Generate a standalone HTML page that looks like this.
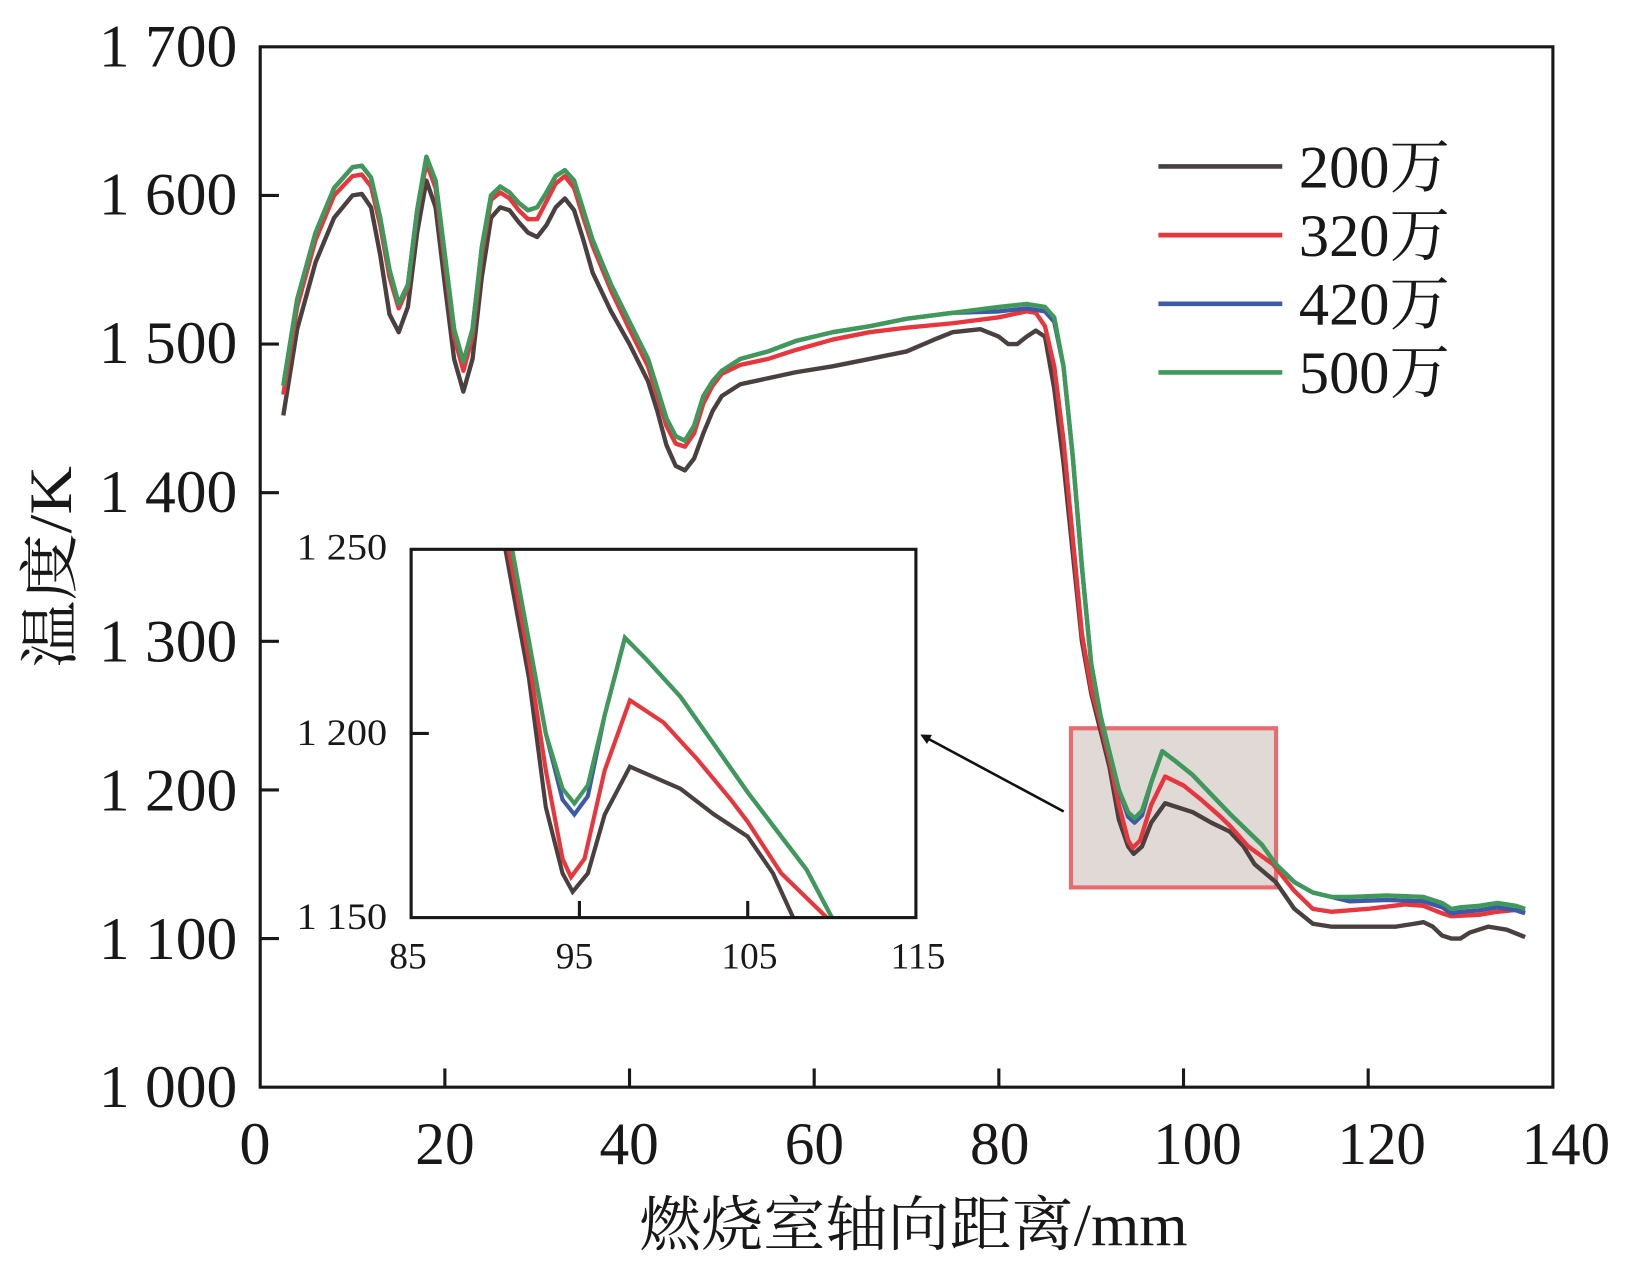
<!DOCTYPE html>
<html><head><meta charset="utf-8"><style>
html,body{margin:0;padding:0;background:#fff;}
svg{display:block;}
text{font-family:"Liberation Serif","Noto Serif CJK SC",serif;fill:#1a1718;}
</style></head><body>
<svg id="s" width="1632" height="1263" viewBox="0 0 1568 1214" preserveAspectRatio="none" xmlns="http://www.w3.org/2000/svg">
<defs><clipPath id="ic"><rect x="395" y="528" width="485" height="354"/></clipPath>
<marker id="ar" markerWidth="10" markerHeight="10" refX="8" refY="5" orient="auto" markerUnits="userSpaceOnUse"><path d="M0,0 L10,5 L0,10 z" fill="#111"/></marker></defs>
<rect x="1029" y="700" width="197" height="153" fill="#e0d9d6" stroke="#ea6b6e" stroke-width="4"/>
<g id="main" fill="none" stroke-width="4.2" stroke-linejoin="round"></g>
<g id="inset" fill="none" stroke-width="4" clip-path="url(#ic)"></g>
<rect x="250" y="45" width="1242" height="1000" fill="none" stroke="#1a1718" stroke-width="3"/>
<rect x="395" y="528" width="485" height="354" fill="none" stroke="#1a1718" stroke-width="3"/>
<line x1="1022" y1="780" x2="886" y2="707" stroke="#111" stroke-width="2.5" marker-end="url(#ar)"/>
<g id="ticks" stroke="#1a1718" stroke-width="3"></g>
<g font-size="58">
<text x="95" y="64" textLength="133" lengthAdjust="spacingAndGlyphs">1 700</text>
<text x="95" y="206" textLength="133" lengthAdjust="spacingAndGlyphs">1 600</text>
<text x="95" y="349" textLength="133" lengthAdjust="spacingAndGlyphs">1 500</text>
<text x="95" y="492" textLength="133" lengthAdjust="spacingAndGlyphs">1 400</text>
<text x="95" y="636" textLength="133" lengthAdjust="spacingAndGlyphs">1 300</text>
<text x="95" y="779" textLength="133" lengthAdjust="spacingAndGlyphs">1 200</text>
<text x="95" y="922" textLength="133" lengthAdjust="spacingAndGlyphs">1 100</text>
<text x="95" y="1064" textLength="133" lengthAdjust="spacingAndGlyphs">1 000</text>
<text x="230" y="1119" textLength="30" lengthAdjust="spacingAndGlyphs">0</text>
<text x="399" y="1119" textLength="57" lengthAdjust="spacingAndGlyphs">20</text>
<text x="576" y="1119" textLength="57" lengthAdjust="spacingAndGlyphs">40</text>
<text x="754" y="1119" textLength="57" lengthAdjust="spacingAndGlyphs">60</text>
<text x="932" y="1119" textLength="57" lengthAdjust="spacingAndGlyphs">80</text>
<text x="1108" y="1119" textLength="85" lengthAdjust="spacingAndGlyphs">100</text>
<text x="1285" y="1119" textLength="85" lengthAdjust="spacingAndGlyphs">120</text>
<text x="1462" y="1119" textLength="85" lengthAdjust="spacingAndGlyphs">140</text>
<text x="614" y="1197" textLength="527" lengthAdjust="spacingAndGlyphs">燃烧室轴向距离/mm</text>
<text transform="translate(68,545) rotate(-90)" x="-97" textLength="194" lengthAdjust="spacingAndGlyphs">温度/K</text>
<text x="1248" y="180" textLength="145" lengthAdjust="spacingAndGlyphs">200万</text>
<text x="1248" y="246" textLength="145" lengthAdjust="spacingAndGlyphs">320万</text>
<text x="1248" y="312" textLength="145" lengthAdjust="spacingAndGlyphs">420万</text>
<text x="1248" y="378" textLength="145" lengthAdjust="spacingAndGlyphs">500万</text>
</g>
<g font-size="36">
<text x="285" y="538" textLength="87" lengthAdjust="spacingAndGlyphs">1 250</text>
<text x="285" y="716" textLength="87" lengthAdjust="spacingAndGlyphs">1 200</text>
<text x="285" y="893" textLength="87" lengthAdjust="spacingAndGlyphs">1 150</text>
<text x="392" y="931" text-anchor="middle">85</text>
<text x="552" y="931" text-anchor="middle">95</text>
<text x="720" y="931" text-anchor="middle">105</text>
<text x="882" y="931" text-anchor="middle">115</text>
</g>
<g stroke-width="4.5">
<line x1="1113" y1="160" x2="1232" y2="160" stroke="#4a4040"/>
<line x1="1113" y1="226" x2="1232" y2="226" stroke="#e8363c"/>
<line x1="1113" y1="292" x2="1232" y2="292" stroke="#3c5aa8"/>
<line x1="1113" y1="358" x2="1232" y2="358" stroke="#3f9a5a"/>
</g>
</svg>
<script>
var B=[2.5,1452,4,1510,6,1555,8,1585,10,1600,11,1601,12,1592,13,1560,14,1520,15,1508,16,1525,17,1575,18,1610,19,1592,20,1540,21,1490,22,1468,23,1490,24,1545,25,1585,26,1592,27,1590,28,1582,29,1575,30,1572,31,1580,32,1592,33,1598,34,1590,35,1570,36,1548,38,1522,40,1500,42,1475,43,1455,44,1432,45,1418,46,1415,47,1423,48,1440,49,1455,50,1465,52,1473,55,1477,58,1481,62,1485,66,1490,70,1495,73,1503,75,1508,78,1510,80,1505,81,1500,82,1500,83,1505,84,1509,85,1505,86,1470,87,1420,88,1360,89,1300,90,1265,91,1240,92,1215,93,1180,94,1162,94.6,1157,95.5,1162,96.5,1178,98,1191,101,1185,103,1178,105,1172,106.5,1162,107.7,1150,110,1138,112,1120,114,1110,116,1108,120,1108,123,1108,125,1110,126,1111,127,1108,128,1102,129,1100,130,1100,131,1104,133,1108,135,1106,137,1101];
var R=[2.5,1466,4,1525,6,1570,8,1600,10,1613,11,1614,12,1606,13,1580,14,1545,15,1524,16,1538,17,1588,18,1622,19,1605,20,1555,21,1505,22,1482,23,1505,24,1560,25,1597,26,1602,27,1598,28,1590,29,1584,30,1584,31,1596,32,1608,33,1613,34,1605,35,1585,36,1566,38,1536,40,1510,42,1485,43,1465,44,1445,45,1433,46,1431,47,1440,48,1460,49,1472,50,1480,52,1486,55,1490,58,1496,62,1503,66,1508,70,1511,75,1514,80,1518,83,1522,84,1521,85,1512,86,1485,87,1435,88,1370,89,1305,90,1268,91,1245,92,1220,93,1190,94,1166,94.5,1161,95.3,1166,96.5,1190,98,1209,100,1203,102,1193,104,1182,105,1176,107,1162,109.7,1150,112,1132,114,1120,116,1118,120,1120,124,1123,126,1122,128,1117,129,1115,132,1116,134,1118,137,1120];
var G=[2.5,1472,4,1530,6,1575,8,1605,10,1619,11,1620,12,1612,13,1585,14,1550,15,1527,16,1540,17,1590,18,1626,19,1610,20,1560,21,1510,22,1488,23,1510,24,1565,25,1600,26,1606,27,1602,28,1595,29,1590,30,1592,31,1602,32,1613,33,1617,34,1610,35,1590,36,1570,37,1555,38,1540,40,1515,42,1490,43,1470,44,1450,45,1438,46,1435,47,1445,48,1465,49,1475,50,1482,52,1490,55,1495,58,1502,62,1508,66,1512,70,1517,75,1521,80,1525,83,1527,85,1525,86,1518,87,1485,88,1425,89,1350,90,1285,91,1250,92,1225,93,1200,94,1185,94.7,1181,95.5,1186,96.5,1205,97.7,1226,99,1220,101,1210,103,1197,105,1184,107,1172,108.5,1163,110,1150,112,1138,114,1131,116,1128,118,1128,122,1129,126,1128,128,1124,129,1120,130,1121,132,1122,134,1124,136,1122,137,1120];
var L=G.slice();
for(var i=0;i<L.length;i+=2){var x=L[i];if(x>=80&&x<=86)L[i+1]-=3;if(x>=94&&x<=95.5)L[i+1]-=3;if(x>=118)L[i+1]-=3;}
function path(a,fx,fy){var d="";for(var i=0;i<a.length;i+=2)d+=(i?"L":"M")+fx(a[i]).toFixed(1)+","+fy(a[i+1]).toFixed(1);return d;}
var mx=function(v){return 250+v*8.871},my=function(t){return 1045-(t-1000)*1.4286};
var ix=function(v){return 395+(v-85)*16.17},iy=function(t){return 528+(1250-t)*3.54};
var S=[[B,"#4a4040"],[R,"#e8363c"],[L,"#3c5aa8"],[G,"#3f9a5a"]];
var m=document.getElementById("main"),n=document.getElementById("inset"),ns="http://www.w3.org/2000/svg";
S.forEach(function(s){var p=document.createElementNS(ns,"path");p.setAttribute("d",path(s[0],mx,my));p.setAttribute("stroke",s[1]);m.appendChild(p);
var q=document.createElementNS(ns,"path");q.setAttribute("d",path(s[0],ix,iy));q.setAttribute("stroke",s[1]);n.appendChild(q);});
var t=document.getElementById("ticks"),h="";
for(var k=1;k<7;k++){var y=my(1000+k*100);h+='<line x1="250" y1="'+y+'" x2="268" y2="'+y+'"/>';}
for(var k=1;k<7;k++){var x=mx(k*20);h+='<line x1="'+x+'" y1="1045" x2="'+x+'" y2="1027"/>';}
h+='<line x1="395" y1="705" x2="412" y2="705"/>';
[95,105].forEach(function(v){var x=ix(v);h+='<line x1="'+x+'" y1="882" x2="'+x+'" y2="866"/>';});
t.innerHTML=h;
</script>
</body></html>
